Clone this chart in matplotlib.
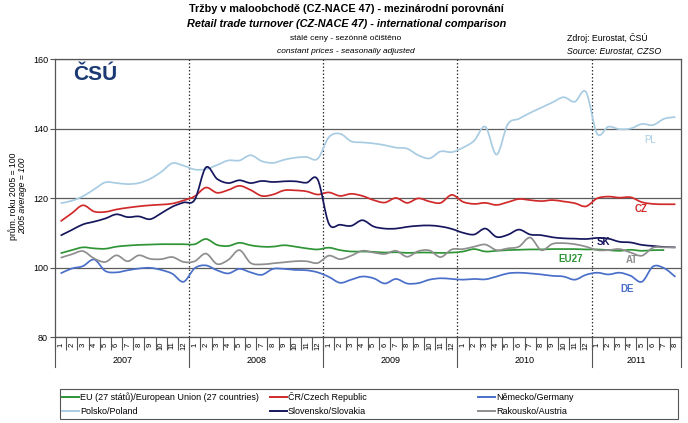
import matplotlib.pyplot as plt
import matplotlib.transforms as mtransforms
import numpy as np
from matplotlib.lines import Line2D
from matplotlib.patches import PathPatch, Rectangle
from matplotlib.path import Path

plt.rcParams['font.family'] = ['Liberation Sans', 'DejaVu Sans']

# Data: monthly index, 2005 average = 100, 2007-01 .. 2011-08
years = ['2007', '2008', '2009', '2010', '2011']
months_per_year = [12, 12, 12, 12, 8]
month_labels = [str(m) for n in months_per_year for m in range(1, n + 1)]

eu = [104.1, 105.0, 105.8, 105.5, 105.4, 106.0, 106.3, 106.5, 106.6, 106.7, 106.7, 106.7,
      106.7, 108.2, 106.5, 106.2, 107.1, 106.4, 106.0, 106.0, 106.4, 106.0, 105.5, 105.2,
      105.7, 105.0, 104.6, 104.6, 104.5, 104.3, 104.4, 104.2, 104.3, 104.3, 104.2, 104.3,
      104.6, 105.3, 104.6, 104.8, 105.0, 105.1, 105.2, 105.2, 105.3, 105.3, 105.3, 105.2,
      105.2, 105.0, 104.8, 105.1, 104.8, 105.0, 105.0, None]
cz = [113.3, 115.6, 117.9, 116.1, 116.0, 116.7, 117.2, 117.6, 117.9, 118.1, 118.4, 119.3,
      120.5, 123.0, 121.5, 122.3, 123.5, 122.3, 120.6, 121.0, 122.2, 122.2, 121.9, 121.0,
      121.6, 120.6, 121.2, 120.6, 119.4, 118.7, 120.0, 118.6, 119.9, 119.0, 118.6, 120.9,
      118.9, 118.3, 118.6, 118.0, 118.8, 119.7, 119.4, 119.1, 119.4, 119.0, 118.5, 117.6,
      119.9, 120.4, 120.1, 120.2, 118.8, 118.3, 118.2, 118.2]
de = [98.3, 99.7, 100.4, 102.3, 99.0, 98.6, 99.2, 99.7, 99.9, 99.3, 98.2, 95.9,
      99.8, 100.6, 99.2, 98.3, 99.6, 98.6, 97.9, 99.6, 99.6, 99.3, 99.2, 98.6,
      97.3, 95.6, 96.5, 97.4, 96.9, 95.4, 96.7, 95.4, 95.5, 96.5, 96.9, 96.7,
      96.5, 96.7, 96.6, 97.4, 98.3, 98.5, 98.3, 98.0, 97.6, 97.4, 96.5, 97.9,
      98.5, 98.0, 98.5, 97.6, 95.9, 100.3, 99.8, 97.3]
pl = [118.5, 119.2, 120.5, 122.5, 124.5, 124.3, 124.0, 124.3, 125.5, 127.5, 130.0, 129.3,
      128.2, 128.3, 129.5, 130.8, 130.8, 132.3, 130.6, 130.1, 131.0, 131.6, 131.8, 131.3,
      137.5, 138.5, 136.3, 136.0, 135.7, 135.2, 134.5, 134.2, 132.3, 131.4, 133.4, 133.2,
      134.5, 136.5, 140.5, 132.5, 141.2, 142.8, 144.5, 146.0, 147.5, 149.0, 147.7, 150.5,
      138.5, 140.5, 139.8, 140.0, 141.3, 141.0, 142.8, 143.3]
sk = [109.2, 110.8, 112.4, 113.2, 114.1, 115.3, 114.5, 114.7, 113.9, 115.6, 117.5, 118.7,
      119.5, 128.8, 125.5, 124.3, 125.1, 124.3, 124.9, 124.6, 124.8, 124.8, 124.4, 125.3,
      112.6, 112.3, 112.0, 113.6, 111.8, 111.2, 111.2, 111.7, 112.0, 112.1, 111.8, 111.1,
      110.0, 109.5, 111.2, 108.8, 109.4, 110.9, 109.5, 109.3, 108.7, 108.4, 108.3, 108.2,
      108.5, 108.3, 107.4, 107.2, 106.5, 106.2, 105.9, 105.8]
at = [102.8, 103.8, 104.7, 102.6, 101.6, 103.5, 101.8, 103.5, 102.5, 102.4, 103.0, 101.6,
      101.8, 104.0, 101.0, 102.2, 105.0, 101.3, 100.9, 101.2, 101.5, 101.8, 101.8, 101.3,
      103.4, 102.4, 103.4, 104.8, 104.3, 103.9, 104.8, 103.1, 104.7, 104.9, 103.0, 105.2,
      105.3, 106.0, 106.6, 105.0, 105.5, 106.0, 108.6, 105.0, 106.8, 107.0, 106.7, 106.0,
      105.0, 105.0, 105.3, 104.3, 103.4, 105.7, 105.8, 105.8]

legend_labels = ['EU (27 států)/European Union (27 countries)', 'ČR/Czech Republic',
                 'Německo/Germany', 'Polsko/Poland', 'Slovensko/Slovakia', 'Rakousko/Austria']
short_labels = ['EU27', 'CZ', 'DE', 'PL', 'SK', 'AT']
values = [eu, cz, de, pl, sk, at]
colors = ['#2f9436', '#d02a2a', '#4a6fc9', '#a8cce2', '#16165e', '#8e8e8e']
# where the short names sit (month index, value)
short_pos = [(45.6, 102.4), (51.9, 116.8), (50.7, 93.8), (52.7, 136.7), (48.6, 107.3), (51.1, 102.2)]


def smooth_path(xs, ys):
    # Excel-like smoothed line: cubic Bezier segments through the points
    pts = np.column_stack([xs, ys]).astype(float)
    n = len(pts)
    verts = [pts[0]]
    codes = [Path.MOVETO]
    for i in range(n - 1):
        p0 = pts[i - 1] if i > 0 else pts[i]
        p1, p2 = pts[i], pts[i + 1]
        p3 = pts[i + 2] if i + 2 < n else pts[i + 1]
        verts += [p1 + (p2 - p0) / 6, p2 - (p3 - p1) / 6, p2]
        codes += [Path.CURVE4] * 3
    return Path(verts, codes)


fig = plt.figure(figsize=(6.88, 4.23), dpi=100)
ax = fig.add_axes([55 / 688, 1 - 337 / 423, 626 / 688, 278 / 423])

n = len(month_labels)
x = np.arange(n)

for vals, c in zip(values, colors):
    vv = [v for v in vals if v is not None]
    ax.add_patch(PathPatch(smooth_path(x[:len(vv)], vv), fill=False,
                           edgecolor=c, lw=1.25, zorder=3))

for (px, py), s, c in zip(short_pos, short_labels, colors):
    ax.text(px, py, s, color=c, fontsize=7, ha='center', va='center',
            fontweight='normal' if s == 'PL' else 'bold', zorder=4)

ax.set_xlim(-0.5, n - 0.5)
ax.set_ylim(80, 160)

# axes styling
for sp in ax.spines.values():
    sp.set_color('#555555')
    sp.set_linewidth(0.9)
ax.set_yticks([80, 100, 120, 140, 160])
ax.tick_params(axis='y', labelsize=6.5, length=3.5, pad=1.5, color='#555555', width=0.8)
ax.grid(axis='y', color='#5c5c5c', lw=0.9, zorder=1)

ax.set_xticks(x)
ax.set_xticklabels(month_labels, rotation=90, va='center', fontsize=5.5)
ax.set_xticks(np.arange(-0.5, n), minor=True)
ax.tick_params(axis='x', which='major', length=0, pad=6)
ax.tick_params(axis='x', which='minor', length=9.5, color='#555555', width=0.8)

# year boundaries
bounds = np.cumsum([0] + months_per_year) - 0.5
trans = mtransforms.blended_transform_factory(ax.transData, ax.transAxes)
for b in bounds:
    ax.add_line(Line2D([b, b], [0, -0.108], transform=trans, color='#555555',
                       lw=0.8, clip_on=False))
for b in bounds[1:-1]:
    ax.axvline(b, color='#333333', ls=(0, (1.2, 1.6)), lw=0.9, zorder=2)
for i, yr in enumerate(years):
    ax.text((bounds[i] + bounds[i + 1]) / 2, -0.086, yr, transform=trans,
            ha='center', va='center', fontsize=6.5)

# titles and notes
fig.text(0.504, 0.979, 'Tržby v maloobchodě (CZ-NACE 47) - mezinárodní porovnání',
         ha='center', va='center', fontsize=7.8, fontweight='bold')
fig.text(0.504, 0.943, 'Retail trade turnover (CZ-NACE 47) - international comparison',
         ha='center', va='center', fontsize=7.8, fontweight='bold', style='italic')
fig.text(0.502, 0.910, 'stálé ceny - sezónně očištěno', ha='center', va='center', fontsize=6)
fig.text(0.502, 0.879, 'constant prices - seasonally adjusted', ha='center', va='center',
         fontsize=6, style='italic')
fig.text(567 / 688, 0.910, 'Zdroj: Eurostat, ČSÚ', ha='left', va='center', fontsize=6.3)
fig.text(567 / 688, 0.879, 'Source: Eurostat, CZSO', ha='left', va='center', fontsize=6.3,
         style='italic')
fig.text(13 / 688, 0.537, 'prům. roku 2005 = 100', rotation=90, ha='center', va='center',
         fontsize=6.2)
fig.text(23 / 688, 0.537, '2005 average = 100', rotation=90, ha='center', va='center',
         fontsize=6.2, style='italic')
fig.text(95 / 688, 1 - 75 / 423, 'ČSÚ', ha='center', va='center', fontsize=15,
         fontweight='heavy', color='#1b3a73')

# legend (Excel style: fixed column width)
fig.add_artist(Rectangle((60 / 688, 1 - 419 / 423), 618 / 688, 30 / 423,
                         transform=fig.transFigure, fill=False, ec='#555555', lw=0.8))
col_x = [62, 270, 478]
row_y = [397, 411]
for k, (lab, c) in enumerate(zip(legend_labels, colors)):
    cx = col_x[k % 3]
    ry = 1 - row_y[k // 3] / 423
    fig.add_artist(Line2D([cx / 688, (cx + 17) / 688], [ry, ry], color=c, lw=1.4,
                          transform=fig.transFigure))
    fig.text((cx + 18) / 688, ry, lab, ha='left', va='center', fontsize=6.5)

fig.savefig('out.png', dpi=100)
